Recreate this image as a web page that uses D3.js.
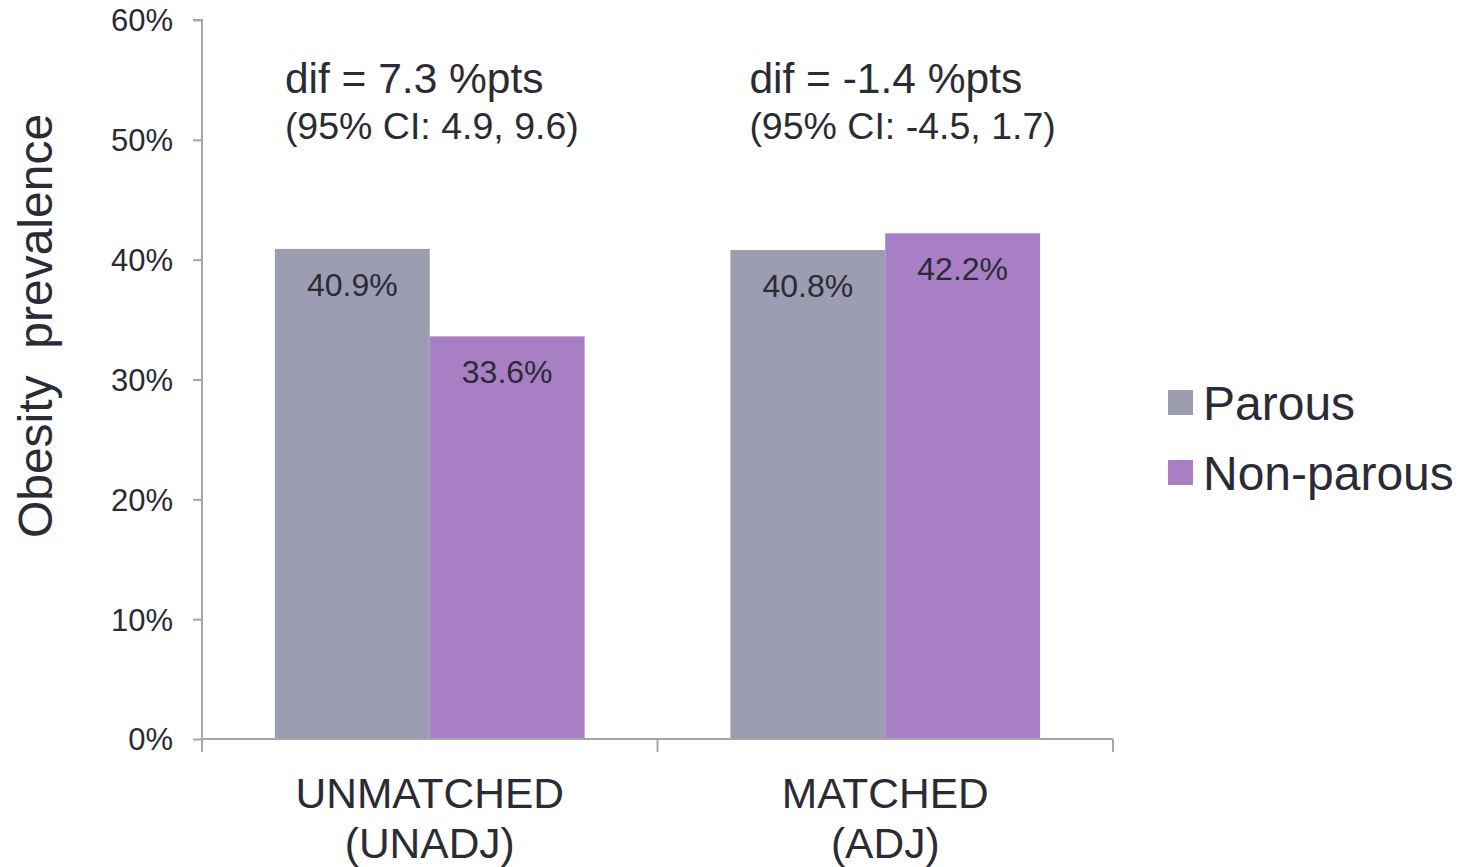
<!DOCTYPE html>
<html>
<head>
<meta charset="utf-8">
<script src="https://cdn.jsdelivr.net/npm/d3@7"></script>
<style>
  html, body { margin: 0; padding: 0; background: #fff; }
  svg { display: block; }
  text { font-family: "Liberation Sans", Arial, Helvetica, sans-serif; fill: #2b2b36; }
</style>
</head>
<body>
<svg id="chart" width="1459" height="867"></svg>
<script>
// Obesity prevalence by parity, unmatched vs matched samples
const categories = ["UNMATCHED|(UNADJ)", "MATCHED|(ADJ)"];
const seriesNames = ["Parous", "Non-parous"];
const parous = [40.9, 40.8];
const nonParous = [33.6, 42.2];
const diffLines = ["dif = 7.3 %pts", "dif = -1.4 %pts"];
const ciLines = ["(95% CI: 4.9, 9.6)", "(95% CI: -4.5, 1.7)"];
const yTicks = [0, 10, 20, 30, 40, 50, 60];

const colors = { "Parous": "#9d9db2", "Non-parous": "#a87fc5" };
const axisColor = "#a6a6a6";

const svg = d3.select("#chart");
const plot = { left: 202, right: 1113, top: 20, bottom: 739 };

const x0 = d3.scaleBand()
  .domain(categories)
  .range([plot.left, plot.right])
  .paddingInner(0.32)
  .paddingOuter(0.16);

const x1 = d3.scaleBand()
  .domain(seriesNames)
  .range([0, x0.bandwidth()]);

const y = d3.scaleLinear().domain([0, 60]).range([plot.bottom, plot.top]);

const rows = categories.map((c, i) => ({
  cat: c,
  values: [
    { name: "Parous", v: parous[i] },
    { name: "Non-parous", v: nonParous[i] }
  ]
}));

// Bars
const groups = svg.append("g").selectAll("g")
  .data(rows).join("g")
  .attr("transform", d => `translate(${x0(d.cat)},0)`);

groups.selectAll("rect")
  .data(d => d.values).join("rect")
  .attr("x", d => x1(d.name))
  .attr("y", d => y(d.v))
  .attr("width", x1.bandwidth())
  .attr("height", d => y(0) - y(d.v))
  .attr("fill", d => colors[d.name]);

// Value labels inside bar tops
groups.selectAll("text.val")
  .data(d => d.values).join("text")
  .attr("class", "val")
  .attr("x", d => x1(d.name) + x1.bandwidth() / 2)
  .attr("y", d => y(d.v) + 47)
  .attr("text-anchor", "middle")
  .style("font-size", "32px")
  .text(d => d.v.toFixed(1) + "%");

// Y axis
const yAxis = d3.axisLeft(y)
  .tickValues(yTicks)
  .tickFormat(d => d + "%")
  .tickSize(9)
  .tickPadding(20);

const gy = svg.append("g")
  .attr("transform", `translate(${plot.left},0)`)
  .call(yAxis);
gy.select(".domain").attr("stroke", axisColor).attr("stroke-width", 2)
  .attr("d", `M-9,${plot.top}H0V${plot.bottom}`);
gy.selectAll(".tick line").attr("stroke", axisColor).attr("stroke-width", 2);
gy.selectAll(".tick text")
  .style("font-size", "31px")
  .style("font-family", "'Liberation Sans', Arial, sans-serif")
  .attr("fill", "#2b2b36")
  .attr("dy", "0.35em");

// X axis with boundary ticks between categories
const gx = svg.append("g").attr("transform", `translate(0,${plot.bottom})`);
gx.append("line")
  .attr("x1", plot.left).attr("x2", plot.right)
  .attr("stroke", axisColor).attr("stroke-width", 2);
const boundaries = [plot.left, ...categories.map(c => x0(c) + x0.bandwidth() + x0.step() * x0.paddingOuter())];
gx.selectAll("line.tick")
  .data(boundaries).join("line")
  .attr("class", "tick")
  .attr("x1", d => d).attr("x2", d => d)
  .attr("y1", 0).attr("y2", 13)
  .attr("stroke", axisColor).attr("stroke-width", 2);

// Category labels (two lines)
const catLabels = svg.append("g").selectAll("text")
  .data(categories).join("text")
  .attr("text-anchor", "middle")
  .style("font-size", "42.5px");
catLabels.each(function (c) {
  const parts = c.split("|");
  const t = d3.select(this);
  parts.forEach((p, i) => {
    t.append("tspan")
      .attr("x", x0(c) + x0.bandwidth() / 2)
      .attr("y", 808 + i * 50)
      .text(p);
  });
});

// Difference annotations above each group
const annotationInset = [10, 19];
svg.append("g").selectAll("text")
  .data(categories).join("text")
  .attr("x", (c, i) => x0(c) + annotationInset[i])
  .attr("y", 93)
  .style("font-size", "42.5px")
  .text((c, i) => diffLines[i]);

svg.append("g").selectAll("text")
  .data(categories).join("text")
  .attr("x", (c, i) => x0(c) + annotationInset[i])
  .attr("y", 139)
  .style("font-size", "37.5px")
  .text((c, i) => ciLines[i]);

// Y axis title
svg.append("text")
  .attr("transform", "translate(52,326) rotate(-90)")
  .attr("text-anchor", "middle")
  .style("font-size", "48px")
  .style("white-space", "pre")
  .attr("xml:space", "preserve")
  .text("Obesity  prevalence");

// Legend
const legend = svg.append("g").selectAll("g")
  .data(seriesNames).join("g")
  .attr("transform", (d, i) => `translate(1168,${390 + i * 70})`);
legend.append("rect")
  .attr("width", 25).attr("height", 25)
  .attr("fill", d => colors[d]);
legend.append("text")
  .attr("x", 35).attr("y", 30)
  .style("font-size", "48px")
  .text(d => d);
</script>
</body>
</html>
